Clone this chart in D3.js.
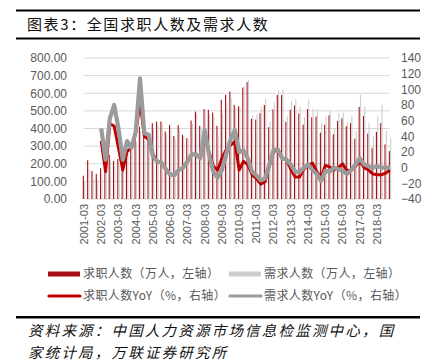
<!DOCTYPE html>
<html>
<head>
<meta charset="utf-8">
<script src="https://cdn.jsdelivr.net/npm/d3@7"></script>
<style>
  body { margin:0; background:#fff; }
  svg { display:block; }
  .tick text { fill:#595959; }
</style>
</head>
<body>
<div id="chart"></div>
<script>
// 全国求职人数及需求人数 (季度)

// 季度类目: 2001-03 ... 2018-12
const years = d3.range(2001, 2019);
const months = ['03','06','09','12'];
const quarters = years.flatMap(y => months.map(m => y + '-' + m));
const tickLabels = quarters.filter(q => q.endsWith('-03'));

// 求职人数（万人，左轴）
const seekers = [
  132,220,159,142, 175,248,250,216, 227,240,290,300, 370,410,350,370,
  430,439,439,383, 420,358,419,364, 345,445,496,415, 510,506,491,415,
  563,591,610,534, 525,632,663,455, 450,486,533,407, 508,590,590,438,
  507,531,485,422, 510,464,468,377, 421,474,367,443, 458,413,430,342,
  523,472,371,290, 380,431,310,272
];
// 需求人数（万人，左轴）
const demand = [
   98,172,116,108, 140,208,220,186, 193,214,267,270, 326,385,326,348,
  400,413,421,368, 403,344,402,357, 338,427,486,407, 500,481,466,353,
  484,544,573,518, 530,638,676,473, 481,520,570,440, 549,620,620,473,
  558,568,524,464, 566,515,510,434, 472,502,400,487, 490,434,473,386,
  591,524,430,354, 468,534,388,345
];
// 同比（%，右轴），从 2002-03 开始
const seekersYoY = [
  null,null,null,null,
  34,-5,56,53, 25,-3,21,25, 44,84,40,36, 17,8,6,-2, -9,-9,-3,0,
  8,17,17,12, 40,20,2,-3, 12,23,29,33, -3,8,4,-9, -14,-21,-18,2,
  21,22,12,10, -2,-12,-12,-2, 3,6,-5,-13, 3,1,-3,0, 5,-4,-3,2,
  8,0,-3,-8, -9,-9,-7,-3
];
const demandYoY = [
  null,null,null,null,
  50,10,63,80, 50,10,34,25, 46,114,44,42, 14,8,6,-2, -9,-9,-3,0,
  8,17,17,12, 48,17,-5,-13, -3,17,36,48, 20,22,12,-5, -10,-16,-14,4,
  23,23,12,10, 4,-5,-6,0, 4,-3,-8,-17, -4,-5,0,-2, -4,-8,-3,4,
  12,4,2,0, 2,0,0,0
];

const W = 434, H = 363;
const colSeek = '#a50f15', colDemand = '#cdcdcd';
const colSeekLine = '#c00000', colDemandLine = '#9b9b9b';
const cjk = '"Noto Sans CJK SC", "Noto Sans", sans-serif';

const svg = d3.select('#chart').append('svg')
  .attr('width', W).attr('height', H);

// 标题与横线
svg.append('rect').attr('x',16).attr('y',9.5).attr('width',404).attr('height',2).attr('fill','#000');
svg.append('rect').attr('x',16).attr('y',37.5).attr('width',404).attr('height',2).attr('fill','#000');
svg.append('text').attr('x',27).attr('y',29.5)
  .style('font-family', cjk).style('font-size','15px').style('letter-spacing','1.6px')
  .attr('fill','#111').text('图表3：全国求职人数及需求人数');

// 比例尺
const x = d3.scalePoint().domain(quarters).range([84, 390]);
const sub = d3.scaleBand().domain(['seek','demand']).range([-1.2, 1.2]).paddingInner(0.15);
const yL = d3.scaleLinear().domain([0, 800]).range([199, 58]);
const yR = d3.scaleLinear().domain([-40, 140]).range([199, 58]);

// 网格线
svg.append('g').selectAll('line')
  .data(yL.ticks(8))
  .join('line')
  .attr('x1', 84).attr('x2', 390)
  .attr('y1', d => yL(d)).attr('y2', d => yL(d))
  .attr('stroke', '#d9d9d9').attr('stroke-width', 1);

// 左轴
svg.append('g')
  .attr('transform', 'translate(70,0)')
  .call(d3.axisLeft(yL).tickValues(d3.range(0, 801, 100)).tickFormat(d3.format('.2f')).tickSize(0))
  .call(g => g.select('.domain').remove())
  .selectAll('text').style('font-family','"Liberation Sans", Arial, sans-serif').style('font-size','12px');

// 右轴
svg.append('g')
  .attr('transform', 'translate(398,0)')
  .call(d3.axisRight(yR).tickValues(d3.range(-40, 141, 20)).tickSize(0))
  .call(g => g.select('.domain').remove())
  .selectAll('text').style('font-family','"Liberation Sans", Arial, sans-serif').style('font-size','12px');

// X 轴标签（竖排）
svg.append('g').selectAll('text')
  .data(tickLabels)
  .join('text')
  .attr('transform', d => `translate(${x(d)},204) rotate(-90)`)
  .attr('text-anchor', 'end')
  .attr('dy', '0.35em')
  .attr('fill', '#595959')
  .style('font-family','"Liberation Sans", Arial, sans-serif')
  .style('font-size','11px')
  .text(d => d);

// 柱子
const bars = svg.append('g');
bars.selectAll('rect.seek')
  .data(seekers)
  .join('rect').attr('class','seek')
  .attr('x', (d,i) => x(quarters[i]) + sub('seek'))
  .attr('width', sub.bandwidth())
  .attr('y', d => yL(d))
  .attr('height', d => yL(0) - yL(d))
  .attr('fill', colSeek);
bars.selectAll('rect.demand')
  .data(demand)
  .join('rect').attr('class','demand')
  .attr('x', (d,i) => x(quarters[i]) + sub('demand'))
  .attr('width', sub.bandwidth())
  .attr('y', d => yL(d))
  .attr('height', d => yL(0) - yL(d))
  .attr('fill', colDemand);

// 同比折线
const line = d3.line()
  .defined(d => d != null)
  .x((d,i) => x(quarters[i]))
  .y(d => yR(d));

svg.append('path').datum(seekersYoY)
  .attr('d', line).attr('fill','none')
  .attr('stroke', colSeekLine).attr('stroke-width', 3).attr('stroke-linejoin','round');
svg.append('path').datum(demandYoY)
  .attr('d', line).attr('fill','none')
  .attr('stroke', colDemandLine).attr('stroke-width', 4.2).attr('stroke-linejoin','round');

// 图例
const legend = [
  {label:'求职人数（万人，左轴）', type:'bar', color:colSeek, x:48, y:274},
  {label:'需求人数（万人，左轴）', type:'bar', color:colDemand, x:229, y:274},
  {label:'求职人数YoY（%，右轴）', type:'line', color:colSeekLine, x:48, y:296},
  {label:'需求人数YoY（%，右轴）', type:'line', color:colDemandLine, x:229, y:296}
];
const lg = svg.append('g').selectAll('g').data(legend).join('g')
  .attr('transform', d => `translate(${d.x},${d.y})`);
lg.filter(d => d.type === 'bar').append('rect')
  .attr('x', 0).attr('y', -2.5).attr('width', 32).attr('height', 5)
  .attr('fill', d => d.color);
lg.filter(d => d.type === 'line').append('line')
  .attr('x1', 1).attr('x2', 32).attr('y1', 0).attr('y2', 0)
  .attr('stroke', d => d.color).attr('stroke-width', 3.2).attr('stroke-linecap','round');
lg.append('text')
  .attr('x', 35).attr('y', 0).attr('dy', '0.35em')
  .attr('fill', '#595959')
  .style('font-family', cjk).style('font-size','12px').style('letter-spacing','0.4px')
  .text(d => d.label);

// 资料来源
svg.append('rect').attr('x',16).attr('y',316).attr('width',404).attr('height',2.5).attr('fill','#000');
const src = svg.append('text')
  .style('font-family', cjk).style('font-size','14.5px').style('font-style','italic')
  .style('letter-spacing','2.2px').attr('fill','#111');
src.append('tspan').attr('x',28).attr('y',336).text('资料来源：中国人力资源市场信息检监测中心，国');
src.append('tspan').attr('x',28).attr('y',358).text('家统计局，万联证券研究所');
</script>
</body>
</html>
